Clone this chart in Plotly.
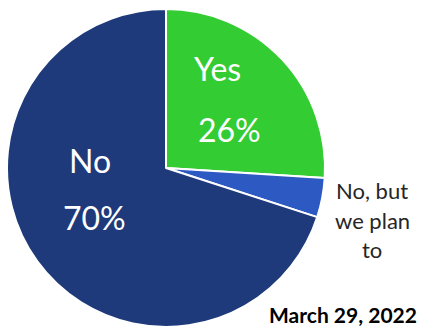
import plotly.graph_objects as go

labels = ["Yes", "No, but we plan to", "No"]
values = [26, 4, 70]
colors = ["#33CC33", "#2D59C2", "#1E3A7B"]
date_label = "March 29, 2022"

W, H = 426, 328
FONT = "Lato, 'Open Sans', sans-serif"

fig = go.Figure(go.Pie(
    labels=labels,
    values=values,
    sort=False,
    direction="clockwise",
    rotation=0,
    marker=dict(colors=colors, line=dict(color="white", width=2)),
    textinfo="none",
    hoverinfo="label+percent",
    domain=dict(x=[7 / W, 325 / W], y=[1 - 327 / H, 1 - 9 / H]),
    showlegend=False,
))

def px(x, y):
    return x / W, 1 - y / H

ann = []
def add(text, x, y, size, color, bold=False, yanchor="middle"):
    xx, yy = px(x, y)
    ann.append(dict(text=f"<b>{text}</b>" if bold else text, x=xx, y=yy,
                    xref="paper", yref="paper", xanchor="center", yanchor=yanchor,
                    showarrow=False, font=dict(family=FONT, size=size, color=color)))

# Yes slice
add(labels[0], 218, 69, 32, "white")
add(f"{values[0]}%", 229, 129, 32, "white")
# No slice
add(labels[2], 90, 160, 32, "white")
add(f"{values[2]}%", 94, 217, 32, "white")
# small slice (outside)
add("No, but", 372, 190, 22, "#262626")
add("we plan", 372, 220, 22, "#262626")
add("to", 372, 249, 22, "#262626")
# date
add(date_label, 343, 329, 21, "black", bold=True, yanchor="bottom")

fig.update_layout(
    width=W, height=H,
    margin=dict(l=0, r=0, t=0, b=0),
    paper_bgcolor="white",
    plot_bgcolor="white",
    annotations=ann,
)

fig.write_html("out.html")
